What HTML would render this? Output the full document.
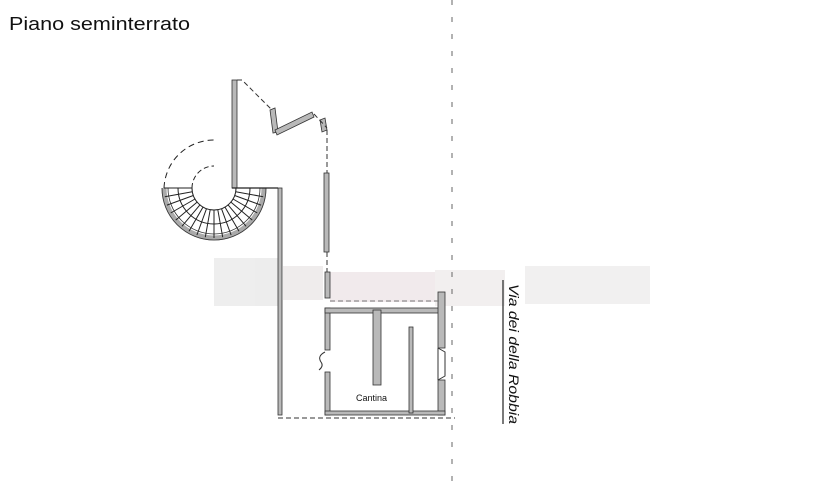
<!DOCTYPE html>
<html><head><meta charset="utf-8"><style>
html,body{margin:0;padding:0;background:#fff;}
svg{display:block;}
</style></head><body>
<svg width="839" height="486" viewBox="0 0 839 486" xmlns="http://www.w3.org/2000/svg">
<rect width="839" height="486" fill="#fff"/>
<text x="9" y="30" font-family="Liberation Sans, sans-serif" font-size="18" fill="#111" textLength="181" lengthAdjust="spacingAndGlyphs">Piano seminterrato</text>

<!-- blurred band -->
<g opacity="0.9">
<rect x="214" y="258" width="64" height="48" fill="#ececec"/>
<rect x="283" y="266" width="40" height="34" fill="#eeeaea"/>
<rect x="330" y="272" width="105" height="30" fill="#f0e8ea"/>
<rect x="435" y="270" width="70" height="36" fill="#f1eeee"/>
<rect x="525" y="266" width="125" height="38" fill="#efeeee"/>
</g>

<!-- dashed street line -->
<line x1="452" y1="0" x2="452" y2="486" stroke="#666" stroke-width="1" stroke-dasharray="5,12"/>
<line x1="503" y1="280" x2="503" y2="424" stroke="#222" stroke-width="1.2"/>
<text transform="translate(509,284) rotate(90)" font-family="Liberation Sans, sans-serif" font-style="italic" font-size="14" fill="#111" textLength="140" lengthAdjust="spacingAndGlyphs">Via dei della Robbia</text>

<g fill="#b9b9b9" stroke="#333" stroke-width="0.8">
<rect x="232" y="80" width="5" height="108"/>
<polygon points="270,110 275,108 278,132 273,133"/>
<polygon points="275,130 312,112 314,117 277,135"/>
<polygon points="320,120 325,118 327,130 322,132"/>
<rect x="324" y="173" width="5" height="79"/>
<rect x="278" y="188" width="4" height="227"/>
<rect x="325" y="272" width="5" height="26"/>
<rect x="325" y="308" width="5" height="42"/>
<rect x="325" y="372" width="5" height="43"/>
<rect x="325" y="308" width="118" height="5"/>
<rect x="438" y="292" width="7" height="56"/>
<rect x="438" y="380" width="7" height="35"/>
<rect x="325" y="411" width="120" height="4"/>
<rect x="373" y="310" width="8" height="75"/>
<rect x="409" y="327" width="4" height="86"/>
</g>
<polyline points="438,348 445,352 445,376 438,380" fill="none" stroke="#333" stroke-width="1"/>
<line x1="438" y1="348" x2="438" y2="380" stroke="#333" stroke-width="1"/>
<path d="M325,352 q-8,4 -4,10 q3,4 -2,8" fill="none" stroke="#333" stroke-width="1"/>

<g fill="none" stroke="#333" stroke-width="1" stroke-dasharray="5,3">
<polyline points="237,80 242,80 272,110"/>
<polyline points="314,114 327,128"/>
<line x1="327" y1="130" x2="327" y2="173"/>
<line x1="327" y1="252" x2="327" y2="272"/>
<line x1="278" y1="418" x2="455" y2="418"/>
<line x1="330" y1="301" x2="440" y2="301" stroke="#777"/>
</g>

<g transform="translate(-4,0)" fill="none" stroke="#222" stroke-width="1">
<path d="M168,188 A50,50 0 0 0 268,188" stroke="#aaa" stroke-width="5"/>
<path d="M166,188 A52,52 0 0 0 270,188" stroke="#333" stroke-width="0.8"/>
<path d="M172,188 A46,46 0 0 0 264,188" stroke="#333" stroke-width="0.8"/>
<path d="M182,188 A36,36 0 0 0 254,188"/>
<path d="M196,188 A22,22 0 0 0 240,188"/>
<line x1="236" y1="188" x2="282" y2="188" stroke-width="1.2"/>
<path d="M240,188 L268,188 M239.7,191.8 L267.2,196.7 M238.7,195.5 L265,205.1 M237,199 L261.3,213 M234.9,202.1 L256.3,220.1 M232.1,204.9 L250.1,226.3 M229,207.1 L243,231.3 M225.5,208.7 L235.1,235 M221.8,209.7 L226.7,237.2 M218,210 L218,238 M214.2,209.7 L209.3,237.2 M210.5,208.7 L200.9,235 M207,207.1 L193,231.3 M203.9,204.9 L185.9,226.3 M201.1,202.1 L179.7,220.1 M199,199 L174.7,213 M197.3,195.5 L171,205.1 M196.3,191.8 L168.8,196.7 M196,188 L168,188"/>
<path d="M168,188 A50,50 0 0 1 218,140" stroke-dasharray="6,4"/>
<path d="M196,188 A22,22 0 0 1 218,166" stroke-dasharray="5,3"/>
</g>

<text x="356" y="401" font-family="Liberation Sans, sans-serif" font-size="9" fill="#111">Cantina</text>
</svg>
</body></html>
